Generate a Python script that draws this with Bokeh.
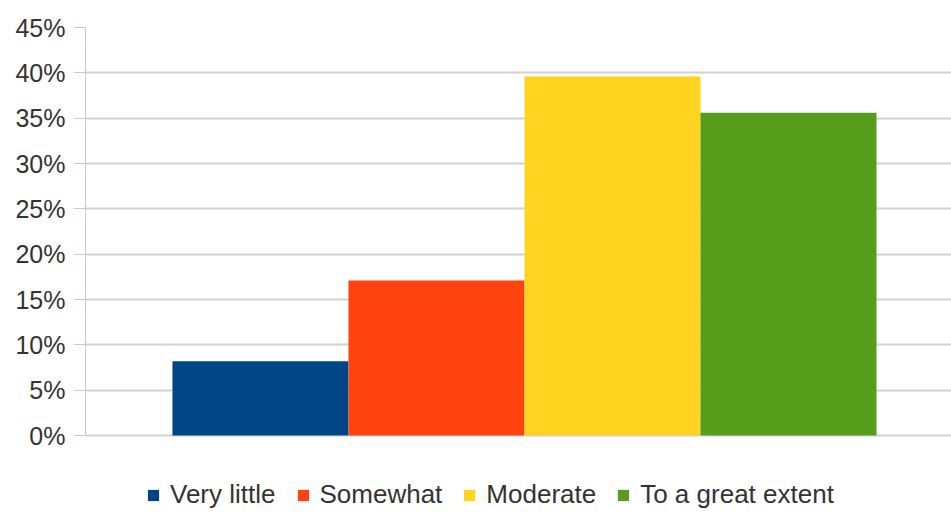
from bokeh.plotting import figure
from bokeh.models import ColumnDataSource, Range1d, FixedTicker, PrintfTickFormatter, Legend, LegendItem
from bokeh.embed import file_html
from bokeh.resources import INLINE

categories = ["Very little", "Somewhat", "Moderate", "To a great extent"]
values = [8.2, 17.1, 39.6, 35.6]
colors = ["#004586", "#ff420e", "#ffd320", "#579d1c"]
y_ticks = [0, 5, 10, 15, 20, 25, 30, 35, 40, 45]

positions = list(range(len(categories)))
src = ColumnDataSource(dict(x=positions, top=values, color=colors, cat=categories))

# frame extends below 0 to make room for the legend inside the canvas
p = figure(width=951, height=516, output_backend="svg", toolbar_location=None,
           x_range=Range1d(-0.994, 3.926), y_range=Range1d(-8.93, 45),
           min_border_left=85, min_border_right=0, min_border_top=27, min_border_bottom=0)

r = p.vbar(x="x", top="top", width=1.0, color="color", source=src, line_color=None)

p.xaxis.visible = False
p.xgrid.visible = False
p.outline_line_color = None

p.yaxis.ticker = FixedTicker(ticks=y_ticks)
p.yaxis.bounds = (y_ticks[0], y_ticks[-1])
p.yaxis.formatter = PrintfTickFormatter(format="%d%%")
p.yaxis.axis_line_color = "#c8c8c8"
p.yaxis.major_tick_line_color = "#c8c8c8"
p.yaxis.major_tick_out = 12
p.yaxis.major_tick_in = 0
p.yaxis.minor_tick_line_color = None
p.yaxis.major_label_standoff = 8
p.yaxis.major_label_text_font = "Liberation Sans"
p.yaxis.major_label_text_font_size = "25px"
p.yaxis.major_label_text_color = "#333333"
p.ygrid.grid_line_color = "#d2d2d2"
p.ygrid.grid_line_width = 2

items = [LegendItem(label=c, renderers=[r], index=i) for i, c in enumerate(categories)]
legend = Legend(items=items, orientation="horizontal", location=(61, 6),
                label_text_font="Liberation Sans", label_text_font_size="26px",
                label_text_color="#333333", glyph_width=14, glyph_height=14,
                label_standoff=10, spacing=20, padding=0, margin=0,
                label_height=30,
                border_line_color=None, background_fill_alpha=0)
p.add_layout(legend, "center")

open("out.html", "w").write(file_html(p, INLINE))
